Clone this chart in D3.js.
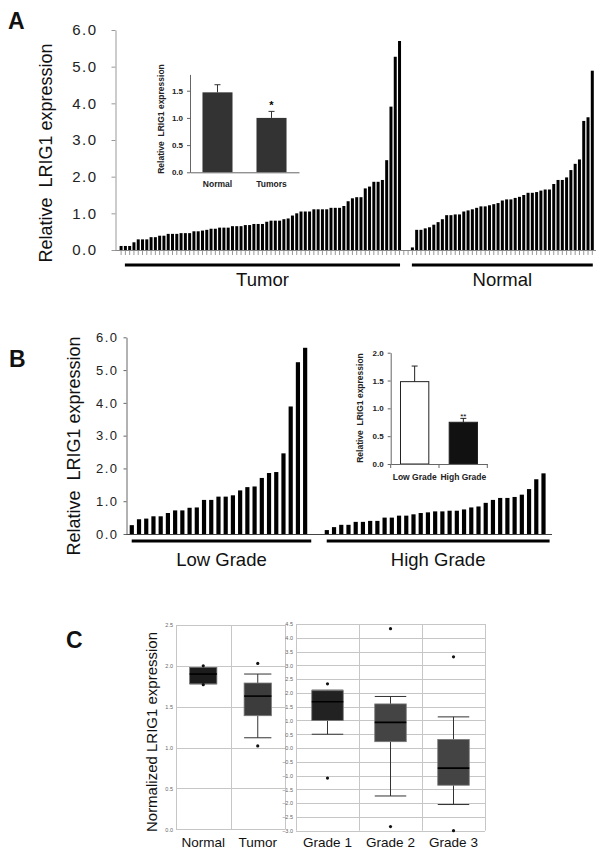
<!DOCTYPE html>
<html><head><meta charset="utf-8">
<script src="https://cdn.jsdelivr.net/npm/d3@7"></script>
<style>body{margin:0;background:#fff}svg{display:block}text{font-family:Arial,"Liberation Sans",sans-serif}</style>
</head><body><svg id="c" width="602" height="855"></svg>
<script>
// ---------- Panel A data ----------
const tumorValues = [0.11,0.11,0.11,0.21,0.29,0.29,0.29,0.35,0.35,0.39,0.39,0.44,0.44,0.44,0.46,0.46,0.46,0.51,0.51,0.53,0.55,0.58,0.58,0.61,0.61,0.61,0.65,0.65,0.65,0.68,0.68,0.71,0.71,0.71,0.77,0.80,0.80,0.80,0.84,0.86,0.94,1.00,1.05,1.05,1.05,1.11,1.11,1.11,1.11,1.15,1.15,1.15,1.20,1.33,1.41,1.44,1.44,1.68,1.73,1.86,1.86,1.91,2.45,3.91,5.27,5.70];
const normalValues = [0.07,0.55,0.55,0.59,0.62,0.69,0.76,0.84,0.95,0.95,0.97,0.97,1.05,1.08,1.11,1.15,1.19,1.19,1.22,1.25,1.28,1.35,1.38,1.38,1.42,1.45,1.50,1.56,1.56,1.58,1.62,1.65,1.65,1.80,1.91,1.91,1.98,2.18,2.35,2.47,3.52,3.62,4.89];
const groupLabelsA = ["Tumor","Normal"];
const yTicksMain = [0,1,2,3,4,5,6];
// inset A
const insetACats = ["Normal","Tumors"];
const insetAMeans = [1.47,1.00];
const insetAErr = [0.14,0.12];
const insetATicks = [0,0.5,1.0,1.5];
// ---------- Panel B data ----------
const lowGradeValues = [0.27,0.45,0.47,0.54,0.54,0.64,0.72,0.72,0.80,0.81,1.04,1.04,1.14,1.14,1.18,1.33,1.43,1.45,1.71,1.86,1.89,2.46,3.89,5.24,5.68];
const highGradeValues = [0.12,0.21,0.28,0.28,0.37,0.37,0.40,0.40,0.50,0.50,0.56,0.56,0.60,0.64,0.66,0.69,0.69,0.71,0.71,0.75,0.81,0.84,0.95,1.04,1.10,1.10,1.13,1.20,1.37,1.67,1.85];
const groupLabelsB = ["Low Grade","High Grade"];
const insetBCats = ["Low Grade","High Grade"];
const insetBMeans = [1.48,0.75];
const insetBErr = [0.28,0.07];
const insetBTicks = [0,0.5,1.0,1.5,2.0];
// ---------- Panel C data ----------
const boxCatsL = ["Normal","Tumor"];
const boxWhiskerLowL = [1.78,1.12];
const boxQ1L = [1.78,1.39];
const boxMedianL = [1.90,1.63];
const boxQ3L = [1.98,1.79];
const boxWhiskerHighL = [1.98,1.90];
const boxOutliersL = [[2.00,1.77],[2.03,1.02]];
const yTicksCL = [0,0.5,1.0,1.5,2.0,2.5];
const boxCatsR = ["Grade 1","Grade 2","Grade 3"];
const boxWhiskerLowR = [0.50,-1.74,-2.05];
const boxQ1R = [1.00,0.23,-1.35];
const boxMedianR = [1.68,0.93,-0.73];
const boxQ3R = [2.08,1.60,0.31];
const boxWhiskerHighR = [2.10,1.87,1.13];
const boxOutliersR = [[2.33,-1.09],[4.33,-2.85],[3.31,-3.00]];
const yTicksCR = [-3.0,-2.5,-2.0,-1.5,-1.0,-0.5,0.0,0.5,1.0,1.5,2.0,2.5,3.0,3.5,4.0,4.5];

const svg = d3.select("#c");
svg.append("rect").attr("width",602).attr("height",855).attr("fill","#fff");
const f1 = d3.format(".1f");

function styleAxis(g, color, fs, extra){
  g.selectAll("path.domain").attr("stroke",color);
  g.selectAll(".tick line").attr("stroke",color);
  g.selectAll(".tick text").attr("fill","#222").style("font-size",fs+"px")
    .style("font-family","Arial, 'Liberation Sans', sans-serif");
  if(extra) extra(g);
}

// ================= PANEL A =================
svg.append("text").attr("x",8).attr("y",29).text("A")
  .style("font-size","23px").style("font-weight","bold").attr("fill","#111");
const gapA = 2;
const nA = tumorValues.length + gapA + normalValues.length;
const xA = d3.scaleBand().domain(d3.range(nA)).range([119.6,593.8]).paddingInner(0.3).paddingOuter(0);
const yA = d3.scaleLinear().domain([0,6]).range([250,30]);
const slotsA = tumorValues.map((v,i)=>({s:i,v}))
  .concat(normalValues.map((v,j)=>({s:tumorValues.length+gapA+j,v})));
svg.append("g").selectAll("rect").data(slotsA).join("rect")
  .attr("x",d=>xA(d.s)).attr("y",d=>yA(d.v)).attr("width",xA.bandwidth())
  .attr("height",d=>yA(0)-yA(d.v)).attr("fill","#000");
// x ticks
const gxA = svg.append("g").attr("transform","translate(0,250)")
  .call(d3.axisBottom(xA).tickFormat("").tickSize(5).tickSizeOuter(0));
gxA.select("path.domain").remove();
gxA.selectAll(".tick line").attr("stroke","#999");
svg.append("line").attr("x1",115).attr("x2",596).attr("y1",250.5).attr("y2",250.5).attr("stroke","#888");
const gyA = svg.append("g").attr("transform","translate(115.5,0)")
  .call(d3.axisLeft(yA).tickValues(yTicksMain).tickFormat(f1).tickSize(4).tickSizeOuter(0).tickPadding(14));
styleAxis(gyA,"#999",15);
gyA.selectAll(".tick text").style("letter-spacing","1.5px");
svg.append("text").attr("transform","translate(52,153) rotate(-90)").attr("text-anchor","middle")
  .style("font-size","18px").attr("fill","#111").text("Relative\u00a0 LRIG1 expression");
// group underlines
const stepA = xA.step();
const groupsA = [
  {label:groupLabelsA[0], a:1, b:tumorValues.length-1},
  {label:groupLabelsA[1], a:tumorValues.length+gapA, b:nA-1}
];
groupsA.forEach(g=>{
  const x1 = xA(g.a)+1, x2 = xA(g.b)+xA.bandwidth()-1;
  svg.append("line").attr("x1",x1).attr("x2",x2).attr("y1",265).attr("y2",265)
    .attr("stroke","#000").attr("stroke-width",3);
  svg.append("text").attr("x",(x1+x2)/2).attr("y",286).attr("text-anchor","middle")
    .style("font-size","18.5px").attr("fill","#111").text(g.label);
});

// ---- Inset A ----
const yIA = d3.scaleLinear().domain([0,1.8]).range([172.3,74.4]);
const xIA = d3.scaleBand().domain(insetACats).range([190,299]).paddingInner(0.444).paddingOuter(0.231);
svg.append("g").selectAll("rect").data(insetACats).join("rect")
  .attr("x",d=>xIA(d)).attr("y",(d,i)=>yIA(insetAMeans[i])).attr("width",xIA.bandwidth())
  .attr("height",(d,i)=>yIA(0)-yIA(insetAMeans[i])).attr("fill","#333");
insetACats.forEach((c,i)=>{
  const cx = xIA(c)+xIA.bandwidth()/2;
  svg.append("line").attr("x1",cx).attr("x2",cx).attr("y1",yIA(insetAMeans[i])).attr("y2",yIA(insetAMeans[i]+insetAErr[i])).attr("stroke","#333");
  svg.append("line").attr("x1",cx-3).attr("x2",cx+3).attr("y1",yIA(insetAMeans[i]+insetAErr[i])).attr("y2",yIA(insetAMeans[i]+insetAErr[i])).attr("stroke","#333");
});
svg.append("text").attr("x",xIA("Tumors")+xIA.bandwidth()/2).attr("y",yIA(insetAMeans[1]+insetAErr[1])-2)
  .attr("text-anchor","middle").style("font-size","11px").style("font-weight","bold").text("*");
const gyIA = svg.append("g").attr("transform","translate(190,0)")
  .call(d3.axisLeft(yIA).tickValues(insetATicks).tickFormat(f1).tickSize(3).tickSizeOuter(0).tickPadding(4));
styleAxis(gyIA,"#666",8);
gyIA.selectAll(".tick text").style("font-weight","bold");
const gxIA = svg.append("g").attr("transform","translate(0,172.3)")
  .call(d3.axisBottom(xIA).tickSize(0).tickSizeOuter(0).tickPadding(9));
styleAxis(gxIA,"#666",8.5);
gxIA.selectAll(".tick text").style("font-weight","bold");
svg.append("text").attr("transform","translate(164,119) rotate(-90)").attr("text-anchor","middle")
  .style("font-size","8.5px").style("font-weight","bold").attr("fill","#222").text("Relative\u00a0 LRIG1 expression");

// ================= PANEL B =================
svg.append("text").attr("x",9).attr("y",367).text("B")
  .style("font-size","23px").style("font-weight","bold").attr("fill","#111");
const gapB = 2;
const nB = lowGradeValues.length + gapB + highGradeValues.length;
const xB = d3.scaleBand().domain(d3.range(nB)).range([129.7,545.6]).paddingInner(0.42).paddingOuter(0);
const yB = d3.scaleLinear().domain([0,6]).range([534,337.3]);
const slotsB = lowGradeValues.map((v,i)=>({s:i,v}))
  .concat(highGradeValues.map((v,j)=>({s:lowGradeValues.length+gapB+j,v})));
svg.append("g").selectAll("rect").data(slotsB).join("rect")
  .attr("x",d=>xB(d.s)).attr("y",d=>yB(d.v)).attr("width",xB.bandwidth())
  .attr("height",d=>yB(0)-yB(d.v)).attr("fill","#000");
svg.append("line").attr("x1",126).attr("x2",552).attr("y1",534.5).attr("y2",534.5).attr("stroke","#444");
const gyB = svg.append("g").attr("transform","translate(126.5,0)")
  .call(d3.axisLeft(yB).tickValues(yTicksMain).tickFormat(f1).tickSize(3).tickSizeOuter(0).tickPadding(5));
styleAxis(gyB,"#666",13);
gyB.selectAll(".tick text").style("letter-spacing","1.5px");
svg.append("text").attr("transform","translate(80,446) rotate(-90)").attr("text-anchor","middle")
  .style("font-size","18px").attr("fill","#111").text("Relative\u00a0 LRIG1 expression");
const groupsB = [
  {label:groupLabelsB[0], a:0, b:lowGradeValues.length-1},
  {label:groupLabelsB[1], a:lowGradeValues.length+gapB, b:nB-1}
];
groupsB.forEach(g=>{
  const x1 = xB(g.a)+2, x2 = xB(g.b)+xB.bandwidth()+4;
  svg.append("line").attr("x1",x1).attr("x2",x2).attr("y1",541).attr("y2",541)
    .attr("stroke","#000").attr("stroke-width",3);
  svg.append("text").attr("x",(x1+x2)/2).attr("y",566).attr("text-anchor","middle")
    .style("font-size","18.5px").attr("fill","#111").text(g.label);
});

// ---- Inset B ----
const yIB = d3.scaleLinear().domain([0,2]).range([464,352.7]);
const xIB = d3.scaleBand().domain(insetBCats).range([390.7,487.3]).paddingInner(0.398).paddingOuter(0.191);
const fillsB = ["#fff","#111"];
svg.append("g").selectAll("rect").data(insetBCats).join("rect")
  .attr("x",d=>xIB(d)+0.5).attr("y",(d,i)=>yIB(insetBMeans[i])).attr("width",xIB.bandwidth()-1)
  .attr("height",(d,i)=>yIB(0)-yIB(insetBMeans[i])).attr("fill",(d,i)=>fillsB[i]).attr("stroke","#222");
insetBCats.forEach((c,i)=>{
  const cx = xIB(c)+xIB.bandwidth()/2;
  svg.append("line").attr("x1",cx).attr("x2",cx).attr("y1",yIB(insetBMeans[i])).attr("y2",yIB(insetBMeans[i]+insetBErr[i])).attr("stroke","#222");
  svg.append("line").attr("x1",cx-3).attr("x2",cx+3).attr("y1",yIB(insetBMeans[i]+insetBErr[i])).attr("y2",yIB(insetBMeans[i]+insetBErr[i])).attr("stroke","#222");
});
svg.append("text").attr("x",xIB("High Grade")+xIB.bandwidth()/2).attr("y",yIB(insetBMeans[1]+insetBErr[1])+1)
  .attr("text-anchor","middle").style("font-size","8px").text("**");
const gyIB = svg.append("g").attr("transform","translate(390.7,0)")
  .call(d3.axisLeft(yIB).tickValues(insetBTicks).tickFormat(f1).tickSize(3).tickSizeOuter(0).tickPadding(4));
styleAxis(gyIB,"#666",8);
gyIB.selectAll(".tick text").style("font-weight","bold");
const gxIB = svg.append("g").attr("transform","translate(0,464)")
  .call(d3.axisBottom(xIB).tickSize(0).tickSizeOuter(0).tickPadding(10));
styleAxis(gxIB,"#666",8.5);
gxIB.selectAll(".tick text").style("font-weight","bold");
[390.7,(390.7+487.3)/2,487.3].forEach(x=>svg.append("line").attr("x1",x).attr("x2",x).attr("y1",464).attr("y2",468).attr("stroke","#666"));
svg.append("text").attr("transform","translate(363,408) rotate(-90)").attr("text-anchor","middle")
  .style("font-size","8.5px").style("font-weight","bold").attr("fill","#222").text("Relative\u00a0 LRIG1 expression");

// ================= PANEL C =================
svg.append("text").attr("x",66).attr("y",648).text("C")
  .style("font-size","23px").style("font-weight","bold").attr("fill","#111");
svg.append("text").attr("transform","translate(157,732) rotate(-90)").attr("text-anchor","middle")
  .style("font-size","15px").attr("fill","#111").text("Normalized LRIG1 expression");

function boxPanel(cats, wl, q1, med, q3, wh, outs, ticks, x0, x1, yDom, yRange, fills){
  const x = d3.scaleBand().domain(cats).range([x0,x1]).paddingInner(0.5).paddingOuter(0.25);
  const y = d3.scaleLinear().domain(yDom).range(yRange);
  const g = svg.append("g");
  // grid
  g.selectAll("line.h").data(ticks).join("line").attr("class","h")
    .attr("x1",x0).attr("x2",x1).attr("y1",d=>Math.round(y(d))+0.5).attr("y2",d=>Math.round(y(d))+0.5)
    .attr("stroke","#c6c6c6");
  const vx = [x0].concat(cats.slice(1).map(c=>x(c)-x.step()*x.paddingInner()/2)).concat([x1]);
  g.selectAll("line.v").data(vx).join("line").attr("class","v")
    .attr("x1",d=>Math.round(d)+0.5).attr("x2",d=>Math.round(d)+0.5).attr("y1",yRange[1]).attr("y2",yRange[0])
    .attr("stroke","#c6c6c6");
  const ga = g.append("g").attr("transform",`translate(${x0},0)`)
    .call(d3.axisLeft(y).tickValues(ticks).tickFormat(f1).tickSize(0).tickPadding(3));
  ga.select("path.domain").remove();
  ga.selectAll(".tick text").attr("fill","#666").style("font-size","5.5px");
  cats.forEach((c,i)=>{
    const bx = x(c), bw = x.bandwidth(), cx = bx+bw/2;
    g.append("line").attr("x1",cx).attr("x2",cx).attr("y1",y(wh[i])).attr("y2",y(q3[i])).attr("stroke","#333");
    g.append("line").attr("x1",cx).attr("x2",cx).attr("y1",y(q1[i])).attr("y2",y(wl[i])).attr("stroke","#333");
    g.append("line").attr("x1",bx).attr("x2",bx+bw).attr("y1",y(wh[i])).attr("y2",y(wh[i])).attr("stroke","#333");
    g.append("line").attr("x1",bx).attr("x2",bx+bw).attr("y1",y(wl[i])).attr("y2",y(wl[i])).attr("stroke","#333");
    g.append("rect").attr("x",bx).attr("y",y(q3[i])).attr("width",bw).attr("height",y(q1[i])-y(q3[i]))
      .attr("fill",fills[i]).attr("stroke","#777").attr("stroke-width",0.8);
    g.append("line").attr("x1",bx).attr("x2",bx+bw).attr("y1",y(med[i])).attr("y2",y(med[i])).attr("stroke","#000").attr("stroke-width",1.6);
    outs[i].forEach(o=>g.append("circle").attr("cx",cx).attr("cy",y(o)).attr("r",1.6).attr("fill","#111"));
    g.append("text").attr("x",cx).attr("y",847).attr("text-anchor","middle")
      .style("font-size","13.5px").attr("fill","#111").text(c);
  });
}
boxPanel(boxCatsL, boxWhiskerLowL, boxQ1L, boxMedianL, boxQ3L, boxWhiskerHighL, boxOutliersL, yTicksCL,
  176, 285, [0,2.5], [829.3,625], ["#1c1c1c","#3c3c3c"]);
boxPanel(boxCatsR, boxWhiskerLowR, boxQ1R, boxMedianR, boxQ3R, boxWhiskerHighR, boxOutliersR, yTicksCR,
  296, 485, [-3,4.5], [830.7,624], ["#222","#444","#444"]);
</script></body></html>
